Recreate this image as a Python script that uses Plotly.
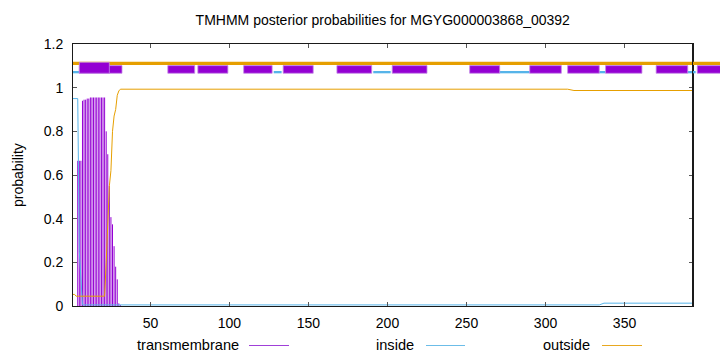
import plotly.graph_objects as go

# ---------------- data ----------------
TITLE = "TMHMM posterior probabilities for MGYG000003868_00392"
X_MIN, X_MAX = 1, 393
X_TICKS = [50, 100, 150, 200, 250, 300, 350]
Y_TICKS = [0, 0.2, 0.4, 0.6, 0.8, 1.0, 1.2]
Y_TICK_LABELS = ["0", "0.2", "0.4", "0.6", "0.8", "1", "1.2"]
Y_LABEL = "probability"
LEGEND_NAMES = ["transmembrane", "inside", "outside"]

# transmembrane posterior (impulses), residues 1..31 (rest ~0)
TM_RES = list(range(1, 32))
TM_PROB = [0, 0, 0, 0.665, 0.665, 0.665, 0.94, 0.945, 0.945, 0.95, 0.95,
           0.955, 0.955, 0.955, 0.955, 0.955, 0.955, 0.955, 0.955, 0.955, 0.955,
           0.80, 0.695, 0.55, 0.407, 0.374, 0.274, 0.18, 0.122, 0.012, 0.004]

# inside posterior (breakpoints)
INSIDE_X = [1, 4, 5, 6, 7, 334, 337, 393]
INSIDE_Y = [0.95, 0.95, 0.25, 0.1, 0.005, 0.005, 0.013, 0.013]

# outside posterior (breakpoints)
OUTSIDE_X = [1, 2, 3, 21, 22, 23, 24, 25, 26, 27, 28, 29, 30, 31, 314, 318, 393]
OUTSIDE_Y = [0.053, 0.053, 0.045, 0.045, 0.2, 0.4, 0.55, 0.62, 0.8, 0.87, 0.9,
             0.965, 0.985, 0.993, 0.993, 0.987, 0.987]

# predicted topology band
TOPO_TM_START = [5, 61, 80, 109, 134, 168, 203, 252, 290, 314, 338, 370, 396]
TOPO_TM_END = [32, 78, 99, 127, 153, 190, 225, 271, 310, 334, 361, 390, 415]
TOPO_TM_TALL_START = [5]
TOPO_TM_TALL_END = [24]
TOPO_IN_START = [1, 128, 191, 271, 334, 390]
TOPO_IN_END = [5, 133, 202, 290, 338, 395]
TOPO_OUT_START = [1]
TOPO_OUT_END = [415]

# ---------------- styles / layout ----------------
C_TM = "#9400d3"
C_IN = "#56b4e9"
C_OUT = "#e69f00"
FONT = "Liberation Sans, Arial, Helvetica, sans-serif"
FS = 14

W, H = 720, 352
PL, PR, PT, PB = 73, 692.5, 44, 306
D = (PR - PL) / (W - PL)

LVL_OUT = 1.111
LVL_IN = 1.071
TM_LO, TM_HI, TM_TALL_HI = 1.066, 1.101, 1.116


def px_x(px):
    return (px - PL) / (W - PL)


def px_y(py):
    return (PB - py) / (PB - PT)


def seg_xy(starts, ends, level):
    xs, ys = [], []
    for s, e in zip(starts, ends):
        xs += [s, e, None]
        ys += [level, level, None]
    return xs, ys


def box_xy(starts, ends, lo, hi):
    xs, ys = [], []
    for s, e in zip(starts, ends):
        xs += [s, e, e, s, s, None]
        ys += [lo, lo, hi, hi, lo, None]
    return xs, ys


fig = go.Figure()

# impulses for TM
imp_x, imp_y = [], []
for r, p in zip(TM_RES, TM_PROB):
    imp_x += [r, r, None]
    imp_y += [0, p, None]
fig.add_trace(go.Scatter(x=imp_x, y=imp_y, mode="lines",
                         line=dict(color=C_TM, width=1), hoverinfo="skip"))
fig.add_trace(go.Scatter(x=INSIDE_X, y=INSIDE_Y, mode="lines",
                         line=dict(color=C_IN, width=1), hoverinfo="skip"))
fig.add_trace(go.Scatter(x=OUTSIDE_X, y=OUTSIDE_Y, mode="lines",
                         line=dict(color=C_OUT, width=1), hoverinfo="skip"))

# topology band on the wide overlay subplot (extends past the right border)
ox, oy = seg_xy(TOPO_OUT_START, TOPO_OUT_END, LVL_OUT)
fig.add_trace(go.Scatter(x=ox, y=oy, mode="lines", xaxis="x2", yaxis="y2",
                         line=dict(color=C_OUT, width=3.3), hoverinfo="skip"))
ix, iy = seg_xy(TOPO_IN_START, TOPO_IN_END, LVL_IN)
fig.add_trace(go.Scatter(x=ix, y=iy, mode="lines", xaxis="x2", yaxis="y2",
                         line=dict(color=C_IN, width=2.3), hoverinfo="skip"))
bx, by = box_xy(TOPO_TM_START, TOPO_TM_END, TM_LO, TM_HI)
fig.add_trace(go.Scatter(x=bx, y=by, mode="lines", fill="toself", fillcolor=C_TM,
                         xaxis="x2", yaxis="y2",
                         line=dict(color="#c48ae6", width=0.8), hoverinfo="skip"))
tx, ty = box_xy(TOPO_TM_TALL_START, TOPO_TM_TALL_END, TM_LO, TM_TALL_HI)
fig.add_trace(go.Scatter(x=tx, y=ty, mode="lines", fill="toself", fillcolor=C_TM,
                         xaxis="x2", yaxis="y2",
                         line=dict(color="#c48ae6", width=0.8), hoverinfo="skip"))

axis_common = dict(showline=True, linecolor="#1a1a1a", linewidth=1, mirror="ticks",
                   ticks="inside", ticklen=4, tickwidth=1, tickcolor="#555",
                   showgrid=False, zeroline=False,
                   tickfont=dict(family=FONT, size=FS, color="black"))

fig.update_layout(
    width=W, height=H,
    margin=dict(l=PL, r=0, t=PT, b=H - PB, autoexpand=False),
    paper_bgcolor="white", plot_bgcolor="rgba(0,0,0,0)",
    showlegend=False,
    font=dict(family=FONT, size=FS, color="black"),
    title=dict(text=TITLE, x=D / 2, xref="paper", xanchor="center",
               y=1 - 20 / H, yref="container", yanchor="middle",
               font=dict(family=FONT, size=FS, color="black")),
    xaxis=dict(domain=[0, D], range=[X_MIN, X_MAX], tickvals=X_TICKS,
               ticklabelstandoff=4, **axis_common),
    yaxis=dict(domain=[0, 1], range=[0, 1.2], tickvals=Y_TICKS, ticktext=Y_TICK_LABELS,
               ticklabelstandoff=6, **axis_common),
    xaxis2=dict(domain=[0, 1], range=[X_MIN, X_MIN + (X_MAX - X_MIN) / D],
                anchor="y2", visible=False, showgrid=False, zeroline=False),
    yaxis2=dict(domain=[0, 1], range=[0, 1.2], anchor="x2", visible=False,
                showgrid=False, zeroline=False),
)

# y-axis title
fig.add_annotation(text=Y_LABEL, xref="paper", yref="paper", x=0, y=0.5,
                   xshift=-(PL - 18), textangle=-90, showarrow=False,
                   xanchor="center", yanchor="middle",
                   font=dict(family=FONT, size=FS, color="black"))

# right border drawn above the overflowing band
fig.add_shape(type="line", xref="paper", yref="paper", x0=D, x1=D, y0=0, y1=1,
              line=dict(color="#1a1a1a", width=1), layer="above")

# legend (gnuplot style: text then sample line)
leg_text_right = [241, 416, 592]
leg_line = [(249, 289), (426, 465), (602, 642)]
leg_colors = ["#a040d8", "#6cbde8", "#e8a820"]
leg_y = 345
for name, tr, (l0, l1), col in zip(LEGEND_NAMES, leg_text_right, leg_line, leg_colors):
    fig.add_annotation(text=name, xref="paper", yref="paper", x=px_x(tr), y=px_y(leg_y),
                       xanchor="right", yanchor="middle", showarrow=False,
                       font=dict(family=FONT, size=14.6, color="black"))
    fig.add_shape(type="line", xref="paper", yref="paper",
                  x0=px_x(l0), x1=px_x(l1), y0=px_y(leg_y + 0.5), y1=px_y(leg_y + 0.5),
                  line=dict(color=col, width=1))

fig.write_html("out.html")
